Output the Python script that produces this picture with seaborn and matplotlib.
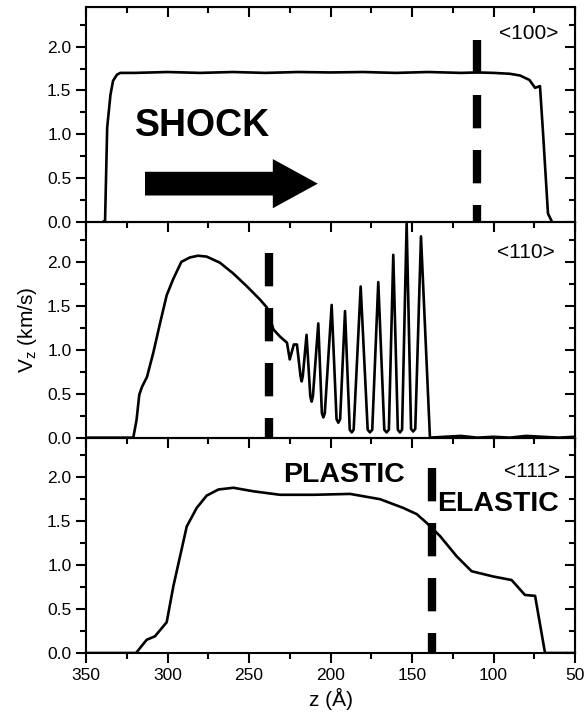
import numpy as np
import pandas as pd
import matplotlib
matplotlib.use('Agg')
import matplotlib.pyplot as plt
from matplotlib.patches import FancyArrow
from matplotlib.ticker import MultipleLocator, FormatStrFormatter
import seaborn as sns

# <100> profile
z100 = [350, 340, 338.3, 337, 335, 333.4, 331, 329, 320, 300, 280, 260, 240, 220, 200,
        180, 160, 140, 120, 110, 100, 90, 83.7, 78, 74.5, 71.5, 69.6, 66.6, 64, 60, 50]
v100 = [0.0, 0.0, 0.02, 1.08, 1.45, 1.61, 1.68, 1.70, 1.70, 1.71, 1.70, 1.71, 1.70, 1.71, 1.705,
        1.71, 1.70, 1.71, 1.70, 1.705, 1.70, 1.69, 1.67, 1.62, 1.53, 1.55, 1.01, 0.10, 0.0, 0.0, 0.0]

# <110> profile
z110 = [350, 330, 321, 319, 317.3, 315.6, 312.6, 308.8, 304.6, 300.5, 296.6, 291.5, 286.3,
        281.3, 276, 267.8, 259.8, 251.2, 243.2, 239, 235, 231, 226.7, 225, 222.5, 220.6,
        218.4, 217.7, 217.0, 214.7, 212.4, 211.6, 210.8, 207.5,
        205.3, 204.4, 203.5, 199.3, 196.3, 195.2, 194.1, 191.1,
        188.2, 187, 185.8, 181.5, 177.2, 175.8, 174.4, 170.7,
        167.0, 165.6, 164.2, 161.5, 158.7, 157.4, 156.1, 153.3,
        150.6, 149.3, 148.0, 144.5, 139, 130, 120, 110, 100, 90, 80, 70, 60, 50]
v110 = [0.0, 0.0, 0.0, 0.20, 0.49, 0.58, 0.69, 0.96, 1.30, 1.62, 1.80, 2.00, 2.05,
        2.07, 2.06, 1.99, 1.87, 1.72, 1.57, 1.48, 1.23, 1.15, 1.08, 0.89, 1.06, 1.06,
        0.70, 0.64, 0.70, 1.17, 0.47, 0.41, 0.47, 1.30,
        0.28, 0.23, 0.28, 1.51, 0.21, 0.17, 0.21, 1.44,
        0.09, 0.06, 0.09, 1.72, 0.09, 0.06, 0.09, 1.77,
        0.09, 0.06, 0.09, 2.08, 0.09, 0.06, 0.09, 2.44,
        0.10, 0.07, 0.10, 2.29, 0.0, 0.01, 0.02, 0.0, 0.01, 0.0, 0.02, 0.01, 0.0, 0.01]

# <111> profile
z111 = [350, 330, 319.3, 312.8, 307.7, 300.5, 296.4, 292.3, 288.2, 282.1, 276, 268.8,
        259.6, 247.4, 231, 210, 188, 169.6, 155.3, 147.1, 141, 132.8, 122.6, 113.4,
        100.1, 88.9, 80.7, 74.5, 68.4, 60, 50]
v111 = [0.0, 0.0, 0.0, 0.15, 0.19, 0.35, 0.76, 1.10, 1.44, 1.65, 1.79, 1.86,
        1.88, 1.84, 1.80, 1.80, 1.81, 1.75, 1.65, 1.58, 1.48, 1.33, 1.10, 0.93,
        0.87, 0.83, 0.66, 0.65, 0.0, 0.0, 0.0]

labels = ['<100>', '<110>', '<111>']
front_z = [110, 238, 138]
front_top = [2.07, 2.10, 2.11]

sns.set_style('ticks')
plt.rcParams['font.family'] = ['Liberation Sans', 'DejaVu Sans']
plt.rcParams['text.color'] = 'black'
plt.rcParams['axes.labelcolor'] = 'black'
plt.rcParams['axes.edgecolor'] = 'black'
plt.rcParams['xtick.color'] = 'black'
plt.rcParams['ytick.color'] = 'black'

fig = plt.figure(figsize=(5.87, 7.19), dpi=100)
fig.subplots_adjust(left=0.1465, right=0.9796, bottom=0.0918, top=0.9903, hspace=0)
axes = fig.subplots(3, 1, sharex=True)

profiles = [(z100, v100), (z110, v110), (z111, v111)]
label_pos = [(60.4, 2.15), (62.3, 2.11), (59.2, 2.07)]

for i, ax in enumerate(axes):
    z, v = profiles[i]
    df = pd.DataFrame({'z': z, 'v': v})
    sns.lineplot(data=df, x='z', y='v', ax=ax, color='black', lw=1.9,
                 estimator=None, sort=False)
    ax.plot([front_z[i], front_z[i]], [front_top[i], 0], color='black', lw=6,
            dashes=(4, 2.6), solid_capstyle='butt', dash_capstyle='butt')
    ax.set_xlim(350, 50)
    ax.set_ylim(0, 2.45)
    ax.set_xlabel('')
    ax.set_ylabel('')
    ax.xaxis.set_major_locator(MultipleLocator(50))
    ax.xaxis.set_minor_locator(MultipleLocator(25))
    ax.yaxis.set_major_locator(MultipleLocator(0.5))
    ax.yaxis.set_minor_locator(MultipleLocator(0.25))
    ax.yaxis.set_major_formatter(FormatStrFormatter('%.1f'))
    for s in ax.spines.values():
        s.set_visible(True)
        s.set_linewidth(1.5)
    ax.tick_params(which='both', direction='out', width=1.5, labelsize=12.5, colors='black')
    ax.tick_params(which='major', length=7)
    ax.tick_params(which='minor', length=4)
    top = ax.secondary_xaxis('top')
    top.xaxis.set_major_locator(MultipleLocator(50))
    top.xaxis.set_minor_locator(MultipleLocator(25))
    top.tick_params(which='both', direction='in', width=1.5, labeltop=False)
    top.tick_params(which='major', length=7)
    top.tick_params(which='minor', length=4)
    right = ax.secondary_yaxis('right')
    right.yaxis.set_major_locator(MultipleLocator(0.5))
    right.yaxis.set_minor_locator(MultipleLocator(0.25))
    right.tick_params(which='both', direction='in', width=1.5, labelright=False)
    right.tick_params(which='major', length=7)
    right.tick_params(which='minor', length=4)
    ax.text(label_pos[i][0], label_pos[i][1], labels[i], ha='right', va='center', fontsize=15)

for ax in axes[:2]:
    ax.tick_params(labelbottom=False)

axes[0].text(320, 1.10, 'SHOCK', fontsize=27, fontweight='bold', ha='left', va='center')
axes[0].add_patch(FancyArrow(313.8, 0.44, -106, 0, width=0.27, head_width=0.56,
                             head_length=27.6, length_includes_head=True,
                             color='black', lw=0))
axes[2].text(229, 2.03, 'PLASTIC', fontsize=20.5, fontweight='bold', ha='left', va='center')
axes[2].text(134.7, 1.69, 'ELASTIC', fontsize=20.5, fontweight='bold', ha='left', va='center')

axes[1].set_ylabel(r'$\mathregular{V_z}$ (km/s)', fontsize=15, labelpad=6)
axes[2].set_xlabel('z (Å)', fontsize=15, labelpad=4)

fig.savefig('out.png', dpi=100)
